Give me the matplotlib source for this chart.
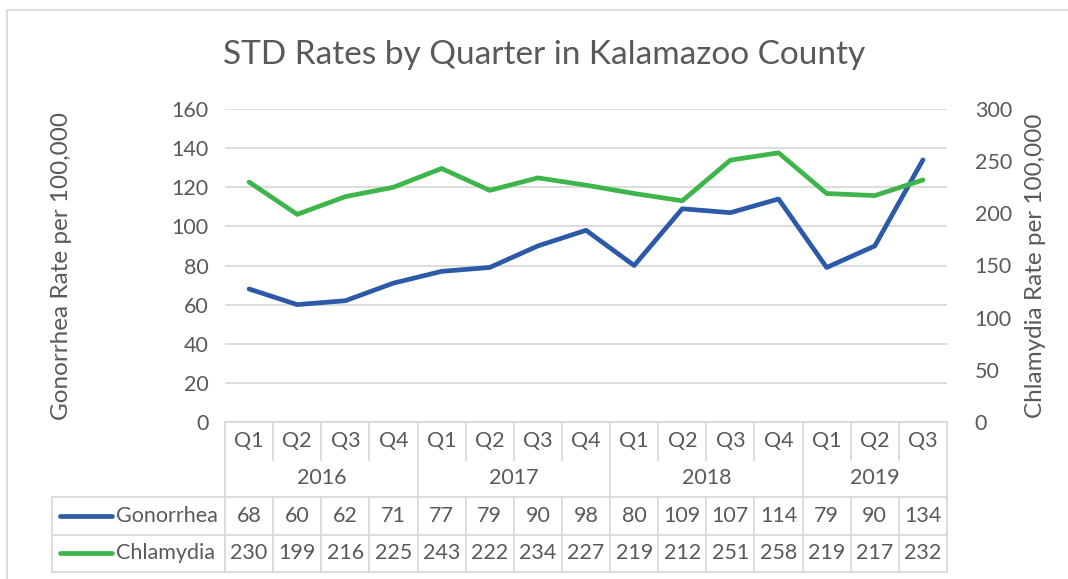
import matplotlib
matplotlib.use('Agg')
import matplotlib.pyplot as plt
import matplotlib.transforms as mtransforms
from matplotlib.lines import Line2D
from matplotlib.patches import Rectangle

plt.rcParams['font.family'] = ['Lato', 'DejaVu Sans']

# Data
years = ['2016', '2017', '2018', '2019']
quarters = ['Q1', 'Q2', 'Q3', 'Q4', 'Q1', 'Q2', 'Q3', 'Q4',
            'Q1', 'Q2', 'Q3', 'Q4', 'Q1', 'Q2', 'Q3']
year_counts = [4, 4, 4, 3]
gonorrhea = [68, 60, 62, 71, 77, 79, 90, 98, 80, 109, 107, 114, 79, 90, 134]
chlamydia = [230, 199, 216, 225, 243, 222, 234, 227, 219, 212, 251, 258, 219, 217, 232]

BLUE = '#2C5AA8'
GREEN = '#3DB54A'
TXT = '#595959'
GRID = '#D9D9D9'
W, H = 1068, 579

def fy(py):
    return 1 - py / H

fig = plt.figure(figsize=(W / 100, H / 100), dpi=100)
ax = fig.add_axes([225 / W, fy(422), (947 - 225) / W, (422 - 109) / H])
ax2 = ax.twinx()

x = list(range(len(quarters)))
ax.plot(x, gonorrhea, color=BLUE, lw=3.4, solid_capstyle='round', zorder=3)
ax2.plot(x, chlamydia, color=GREEN, lw=3.4, solid_capstyle='round', zorder=3)

ax.set_xlim(-0.5, len(quarters) - 0.5)
ax.set_ylim(0, 160)
ax.set_yticks(range(0, 161, 20))
ax2.set_ylim(0, 300)
ax2.set_yticks(range(0, 301, 50))
ax.yaxis.grid(True, color=GRID, lw=1.3)
ax.set_axisbelow(True)
ax.set_xticks([])
for a in (ax, ax2):
    for s in a.spines.values():
        s.set_visible(False)
    a.tick_params(axis='y', length=0, labelsize=15.5, labelcolor=TXT)
ax.tick_params(axis='y', pad=12)
ax2.tick_params(axis='y', pad=20)
ax.spines['bottom'].set_visible(True)
ax.spines['bottom'].set_color(GRID)
ax.spines['bottom'].set_linewidth(1.3)

fig.text(62 / W, fy(266), 'Gonorrhea Rate per 100,000', rotation=90,
         ha='center', va='center', fontsize=17.5, color=TXT)
fig.text(1035 / W, fy(266), 'Chlamydia Rate per 100,000', rotation=90,
         ha='center', va='center', fontsize=17.5, color=TXT)

fig.text(544 / W, fy(55), 'STD Rates by Quarter in Kalamazoo County',
         ha='center', va='center', fontsize=24, color=TXT)

# outer chart border
fig.add_artist(Rectangle((7 / W, -0.1), 1.2, fy(10) + 0.1, transform=fig.transFigure,
                         fill=False, edgecolor=GRID, lw=1.3))

# data table below the axis
tr = mtransforms.blended_transform_factory(ax.transData, fig.transFigure)
tf = fig.transFigure
n = len(quarters)

def hline(x0, x1, py):
    fig.add_artist(Line2D([x0, x1], [fy(py), fy(py)], transform=tr, color=GRID, lw=1.3))

def vline(xd, py0, py1):
    fig.add_artist(Line2D([xd, xd], [fy(py0), fy(py1)], transform=tr, color=GRID, lw=1.3))

for i, q in enumerate(quarters):
    ax.text(i, fy(441), q, transform=tr, ha='center', va='center', fontsize=15.5, color=TXT)
    ax.text(i, fy(516), str(gonorrhea[i]), transform=tr, ha='center', va='center',
            fontsize=15.5, color=TXT)
    ax.text(i, fy(553), str(chlamydia[i]), transform=tr, ha='center', va='center',
            fontsize=15.5, color=TXT)

start = 0
year_edges = [-0.5]
for yr, c in zip(years, year_counts):
    ax.text(start + (c - 1) / 2, fy(478), yr, transform=tr, ha='center', va='center',
            fontsize=15.5, color=TXT)
    start += c
    year_edges.append(start - 0.5)

for k in range(n + 1):
    xe = k - 0.5
    if xe in year_edges:
        vline(xe, 422, 572)
    else:
        vline(xe, 422, 460)
        vline(xe, 497, 572)

# label column
fig.add_artist(Line2D([52 / W, 52 / W], [fy(497), fy(572)], transform=tf, color=GRID, lw=1.3))
for py in (497, 535, 572):
    fig.add_artist(Line2D([52 / W, 225 / W], [fy(py), fy(py)], transform=tf, color=GRID, lw=1.3))
    hline(-0.5, n - 0.5, py)

for py, name, col in ((516, 'Gonorrhea', BLUE), (553, 'Chlamydia', GREEN)):
    fig.add_artist(Line2D([60 / W, 112 / W], [fy(py), fy(py)], transform=tf, color=col,
                          lw=3.4, solid_capstyle='round'))
    fig.text(116 / W, fy(py), name, ha='left', va='center', fontsize=15.5, color=TXT)

plt.savefig('out.png', dpi=100)
